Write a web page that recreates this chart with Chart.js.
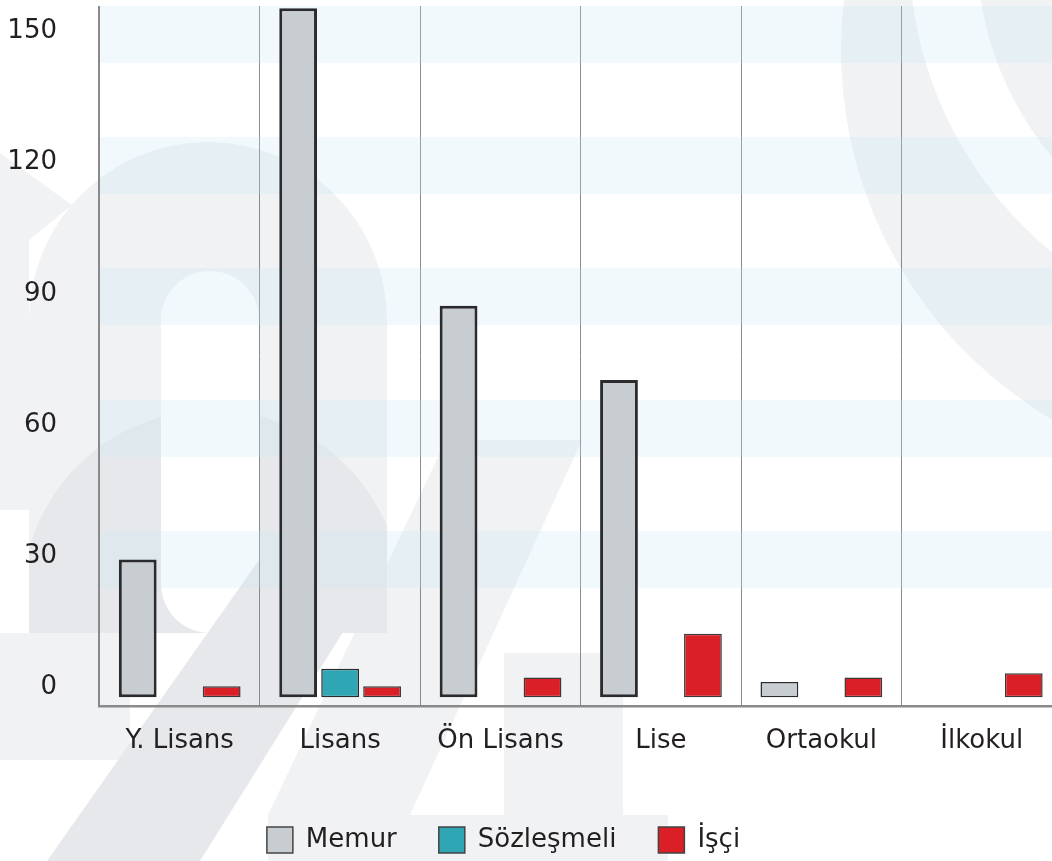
<!DOCTYPE html>
<html lang="tr">
<head>
    <meta charset="UTF-8">
    <title>Eğitim durumu</title>
    <style>
        html, body { margin: 0; padding: 0; background: #fff; overflow: hidden; }
        #wrap { position: relative; width: 1052px; height: 861px; overflow: hidden; }
        #myChart { position: absolute; left: -55px; top: 0; }
    </style>
</head>
<body>
    <div id="wrap"><canvas id="myChart" width="1117" height="863"></canvas></div>

    <script src="https://cdn.jsdelivr.net/npm/chart.js"></script>
    <script>
        // veriler
        const labels = ['Y. Lisans', 'Lisans', 'Ön Lisans', 'Lise', 'Ortaokul', 'İlkokul'];
        const memur = [30, 156, 88, 71, 2, null];
        const sozlesmeli = [null, 5, null, null, null, null];
        const isci = [1, 1, 3, 13, 3, 4];
        const yTicks = [0, 30, 60, 90, 120, 150];

        const SHIFT = 55; // canvas is pushed left so the legend sits where it should

        Chart.defaults.font.family = "'DejaVu Sans', sans-serif";
        Chart.defaults.font.size = 26;
        Chart.defaults.color = '#231f20';

        // faint "24" logo behind the chart
        const watermark = {
            id: 'watermark',
            beforeDraw(chart) {
                const c = chart.ctx;
                const light = '#f1f2f4';
                const dark = '#e6e8eb';
                c.save();
                c.translate(SHIFT, 0);

                const arch = new Path2D();
                arch.moveTo(29, 633);
                arch.lineTo(29, 321);
                arch.arc(208, 321, 179, Math.PI, 0);
                arch.lineTo(387, 633);
                arch.closePath();
                arch.moveTo(161, 320);
                arch.arc(210, 320, 49, Math.PI, 0);
                arch.lineTo(259, 584);
                arch.arc(210, 584, 49, 0, Math.PI);
                arch.closePath();

                c.fillStyle = light;
                c.fill(arch, 'evenodd');

                const poly = (pts, col) => {
                    c.fillStyle = col;
                    c.beginPath();
                    pts.forEach((p, i) => i ? c.lineTo(p[0], p[1]) : c.moveTo(p[0], p[1]));
                    c.closePath();
                    c.fill();
                };
                poly([[0, 153], [72, 205], [29, 240], [29, 510], [0, 510]], light);
                poly([[0, 633], [130, 633], [130, 760], [0, 760]], light);
                poly([[446, 440], [582, 440], [410, 815], [268, 815]], light);
                poly([[504, 653], [623, 653], [623, 815], [504, 815]], light);
                poly([[268, 815], [668, 815], [668, 861], [268, 861]], light);

                // rings at top right
                c.fillStyle = light;
                c.beginPath();
                c.arc(1300, -50, 323, 0, 2 * Math.PI);
                c.fill();
                c.save();
                c.beginPath();
                c.arc(1270, 50, 429, 0, 2 * Math.PI);
                c.clip();
                c.beginPath();
                c.rect(700, -10, 500, 600);
                c.arc(1300, -50, 391, 0, 2 * Math.PI);
                c.fill('evenodd');
                c.restore();

                // darker overlaps
                c.save();
                c.clip(arch, 'evenodd');
                c.fillStyle = dark;
                c.beginPath();
                c.arc(212, 600, 190, 0, 2 * Math.PI);
                c.fill();
                c.restore();
                poly([[47, 861], [200, 861], [388, 560], [259, 560]], dark);

                c.restore();
            }
        };

        const datasets = [
            {
                label: 'Memur',
                data: memur,
                backgroundColor: '#c8cdd1',
                borderColor: '#2b2a2c',
                borderWidth: (ctx) => (ctx.raw !== undefined && ctx.raw < 10) ? 1.5 : 3
            },
            {
                label: 'Sözleşmeli',
                data: sozlesmeli,
                backgroundColor: '#2fa6b3',
                borderColor: '#2b2a2c',
                borderWidth: 1.5
            },
            {
                label: 'İşçi',
                data: isci,
                backgroundColor: '#da1f26',
                borderColor: '#3a3a3a',
                borderWidth: 1.5
            }
        ];

        const options = {
            responsive: false,
            animation: false,
            layout: { padding: { top: 6, left: 0, right: 0, bottom: 0 } },
            datasets: {
                bar: {
                    base: -1.5,
                    borderSkipped: false,
                    categoryPercentage: 0.785,
                    barPercentage: 0.9
                }
            },
            scales: {
                x: {
                    grid: {
                        color: '#8a8a8a',
                        lineWidth: (ctx) => ctx.index === 0 ? 2 : 1,
                        drawTicks: false
                    },
                    border: { display: true, color: '#8a8a8a', width: 2.5 },
                    ticks: { padding: 20, color: '#231f20' },
                    afterFit: (scale) => {
                        scale.height = 79;
                        scale.paddingLeft = 0;
                        scale.paddingRight = 0;
                    }
                },
                y: {
                    min: -3.5,
                    max: 156.5,
                    afterBuildTicks: (scale) => { scale.ticks = yTicks.map(v => ({ value: v })); },
                    afterFit: (scale) => {
                        scale.width = 99.5 + SHIFT;
                        scale.paddingTop = 0;
                        scale.paddingBottom = 0;
                    },
                    grid: {
                        color: (ctx) => (ctx.tick && ctx.tick.value === 0) ? 'rgba(0,0,0,0)' : 'rgba(200,230,245,0.25)',
                        lineWidth: 57,
                        drawTicks: false
                    },
                    border: { display: false },
                    ticks: { padding: 42.5, labelOffset: -3, color: '#231f20' }
                }
            },
            plugins: {
                tooltip: { enabled: false },
                legend: {
                    position: 'bottom',
                    labels: {
                        boxWidth: 26,
                        boxHeight: 26,
                        padding: 42,
                        color: '#231f20',
                        generateLabels: (chart) => {
                            const items = Chart.defaults.plugins.legend.labels.generateLabels(chart);
                            items.forEach(it => { it.lineWidth = 1.5; it.strokeStyle = '#444'; });
                            return items;
                        }
                    }
                }
            }
        };

        new Chart(document.getElementById('myChart'), {
            type: 'bar',
            data: { labels: labels, datasets: datasets },
            options: options,
            plugins: [watermark]
        });
    </script>
</body>
</html>
